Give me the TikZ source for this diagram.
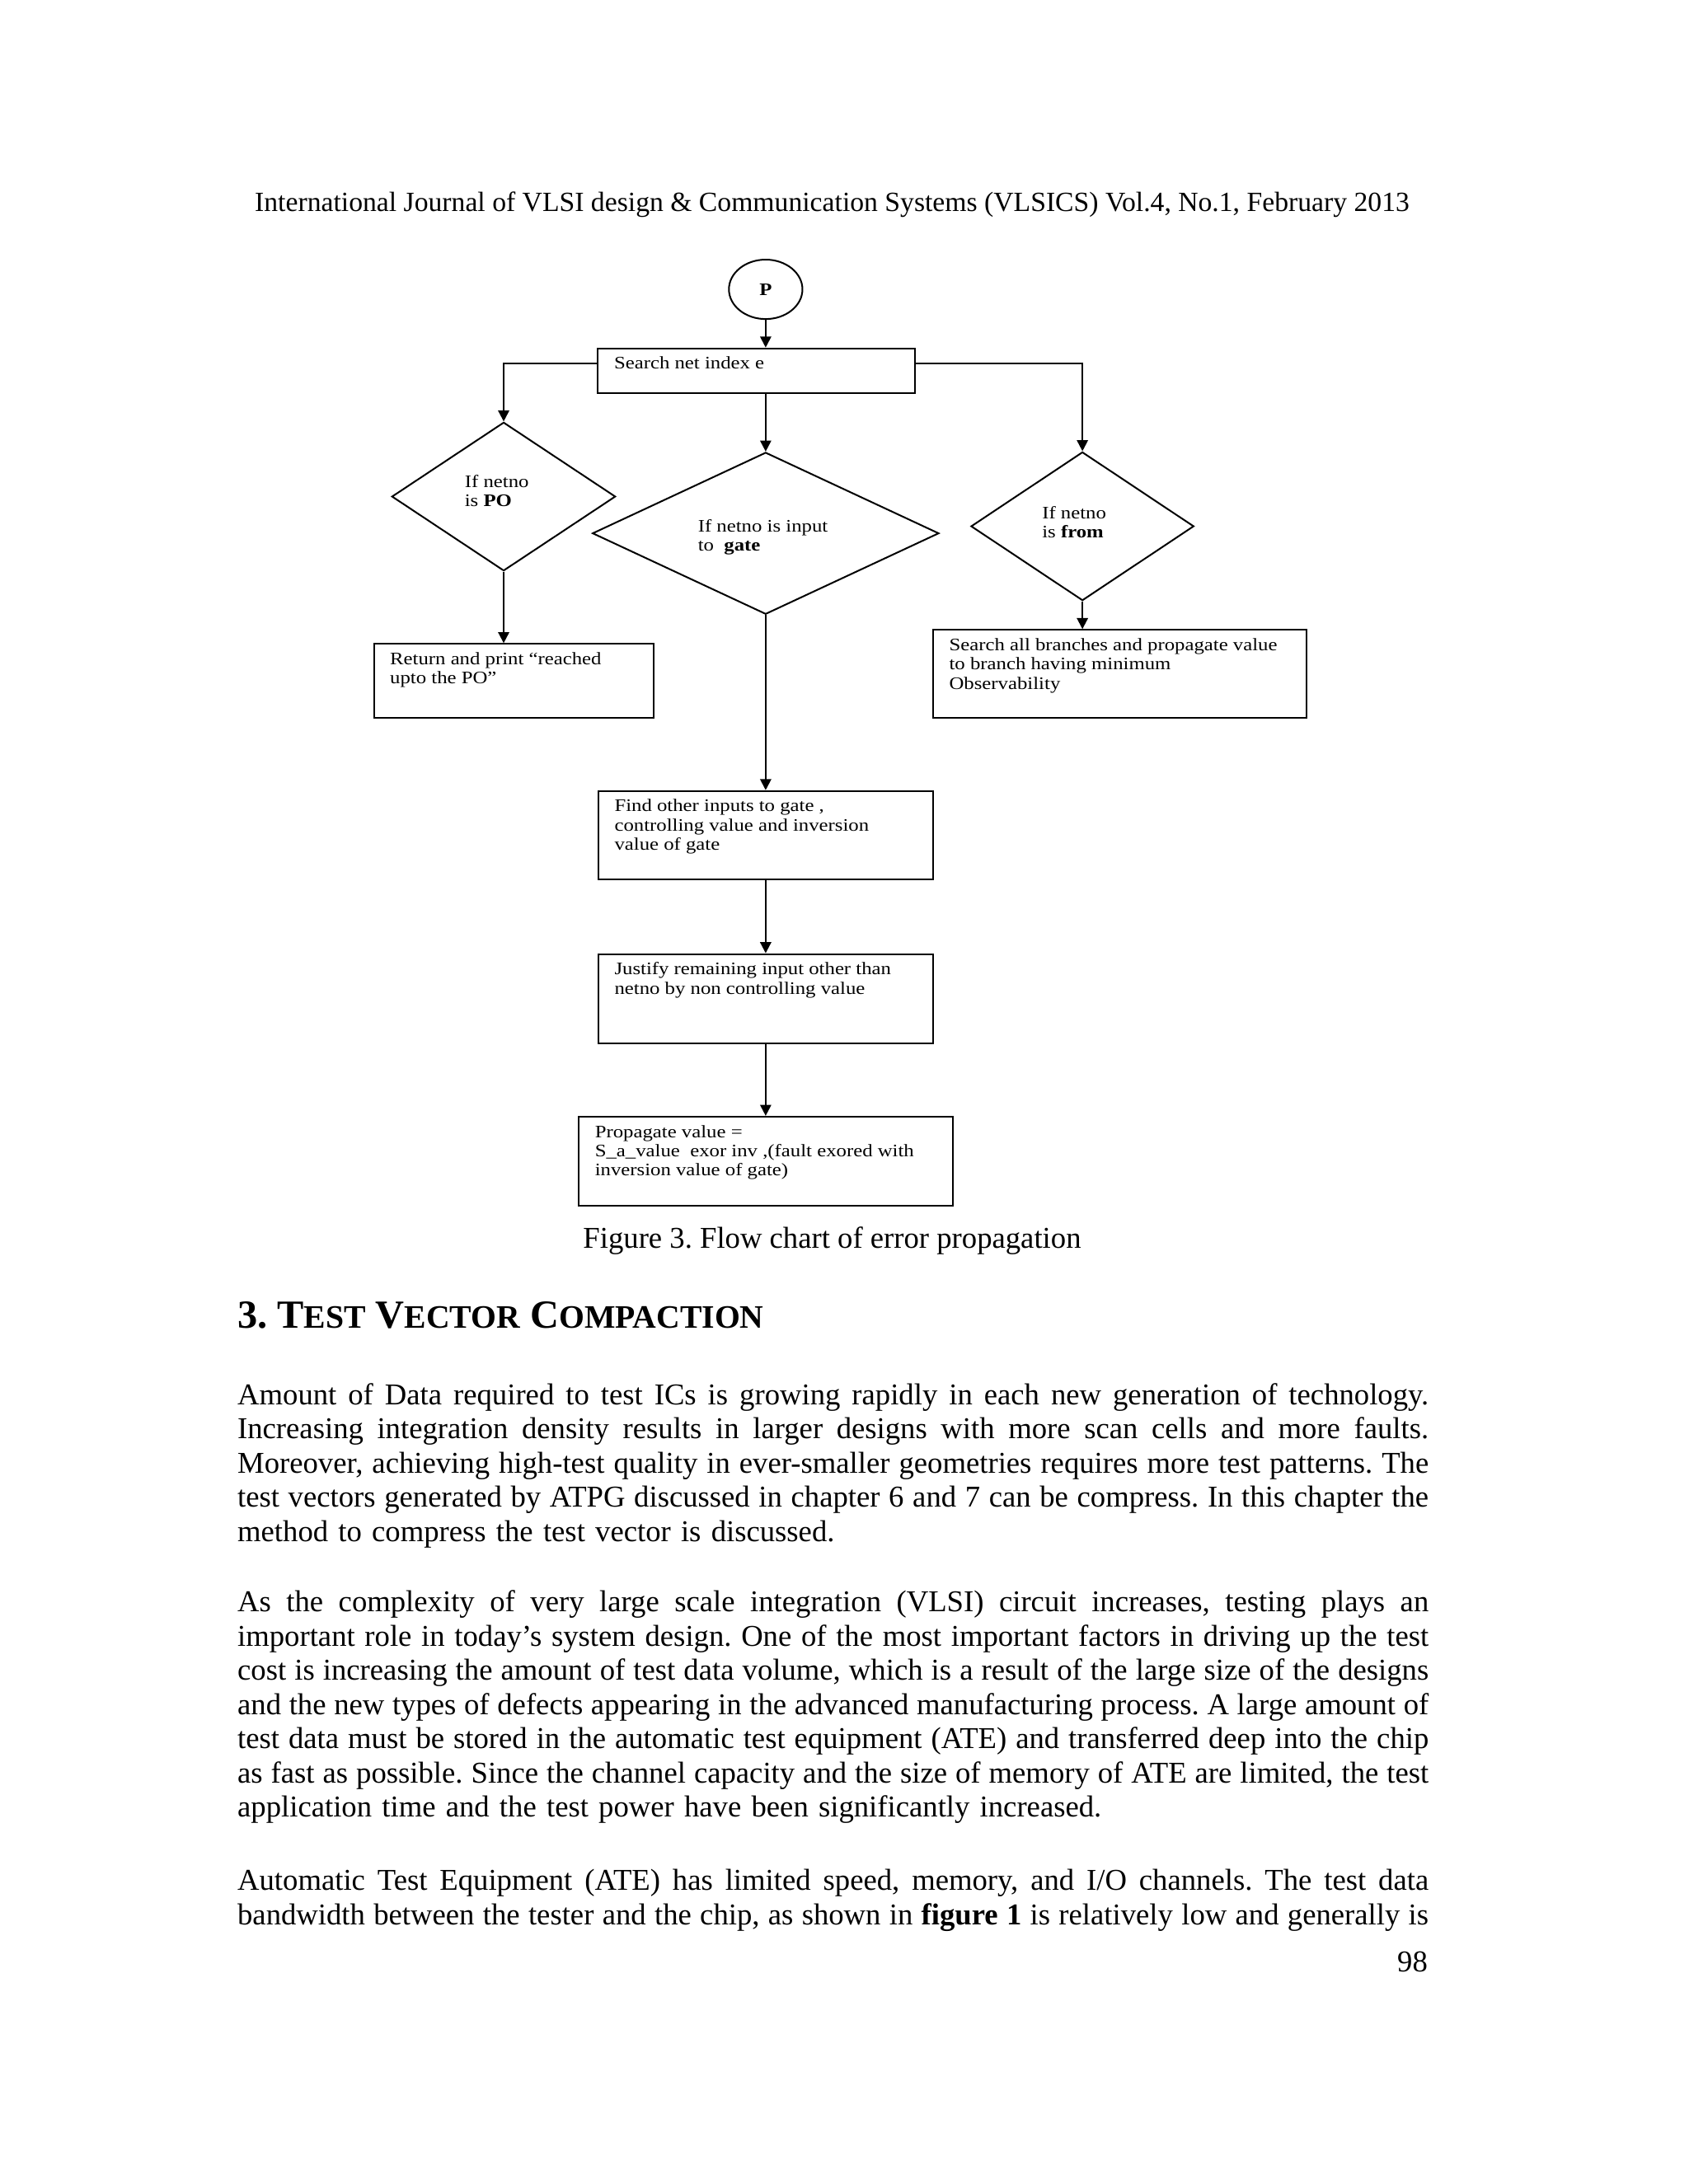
\documentclass[tikz,border=0pt]{standalone}
\usepackage{fontspec}
\setmainfont{Liberation Serif}
\newfontfamily\flowfont{Liberation Serif}[FakeStretch=1.16]
\usetikzlibrary{shapes.geometric, arrows.meta, positioning}
\newcommand{\justline}[1]{\makebox[15.23cm][s]{\spaceskip=0pt\xspaceskip=0pt #1}}
\newcommand{\headsc}[1]{{\fontsize{11.9pt}{14pt}\selectfont #1}}
\frenchspacing

\begin{document}
\begin{tikzpicture}[
    chart/.style={font=\flowfont\fontsize{6.4pt}{7pt}\selectfont},
    terminal/.style={ellipse, draw=black, line width=0.6pt, inner sep=0pt, minimum width=0.94cm, minimum height=0.76cm, chart},
    decision/.style={diamond, draw=black, line width=0.6pt, inner sep=0pt},
    difftext/.style={anchor=center, inner sep=0pt, align=left, chart},
    process/.style={rectangle, draw=black, line width=0.6pt, inner sep=0pt},
    boxtext/.style={anchor=north west, inner xsep=6pt, inner ysep=3.2pt, align=left, chart},
    flow/.style={-{Triangle[length=4pt, width=4pt]}, line width=0.6pt},
    para/.style={anchor=north west, inner sep=0pt, text width=15.23cm, align=left, font=\fontsize{11pt}{12.45pt}\selectfont}
]
    \fill[white] (0,0) rectangle (21.59,-27.93);
    \useasboundingbox (0,0) rectangle (21.59,-27.93);

    % Header
    \node[anchor=base, inner sep=0pt, font=\fontsize{10.1pt}{12pt}\selectfont] (header) at (10.64,-2.70) {International Journal of VLSI design \& Communication Systems (VLSICS) Vol.4, No.1, February 2013};

    % Flow chart
    \node[terminal] (p) at (9.79,-3.70) {\textbf{P}};
    \node[process, minimum width=4.05cm, minimum height=0.57cm,
        label={[boxtext]north west:{Search net index e}}] (search) at (9.67,-4.74) {};

    \node[decision, minimum width=2.86cm, minimum height=1.90cm,
        label={[difftext, xshift=-2.5pt, yshift=2pt]center:{If netno\\is \textbf{PO}}}] (ldia) at (6.44,-6.35) {};
    \node[decision, minimum width=4.43cm, minimum height=2.07cm,
        label={[difftext, xshift=-1pt, yshift=-1.5pt]center:{If netno is input\\to \ \textbf{gate}}}] (mdia) at (9.79,-6.82) {};
    \node[decision, minimum width=2.85cm, minimum height=1.90cm,
        label={[difftext, xshift=-3pt, yshift=1.5pt]center:{If netno\\is \textbf{from}}}] (rdia) at (13.84,-6.73) {};

    \node[process, minimum width=3.58cm, minimum height=0.95cm,
        label={[boxtext]north west:{Return and print “reached\\upto the PO”}}] (ret) at (6.57,-8.71) {};
    \node[process, minimum width=4.78cm, minimum height=1.13cm,
        label={[boxtext]north west:{Search all branches and propagate value\\to branch having minimum\\Observability}}] (branch) at (14.32,-8.62) {};

    \node[process, minimum width=4.28cm, minimum height=1.13cm,
        label={[boxtext]north west:{Find other inputs to gate ,\\controlling value and inversion\\value of gate}}] (find) at (9.79,-10.68) {};
    \node[process, minimum width=4.28cm, minimum height=1.14cm,
        label={[boxtext]north west:{Justify remaining input other than\\netno by non controlling value}}] (justify) at (9.79,-12.77) {};
    \node[process, minimum width=4.78cm, minimum height=1.14cm,
        label={[boxtext]north west:{Propagate value =\\S\_a\_value \ exor inv ,(fault exored with\\inversion value of gate)}}] (prop) at (9.79,-14.85) {};

    \draw[flow] (p) -- (p |- search.north);
    \draw[flow] ([yshift=2.7pt]search.west) -| (ldia.north);
    \draw[flow] ([yshift=2.7pt]search.east) -| (rdia.north);
    \draw[flow] (search.south -| mdia.north) -- (mdia.north);
    \draw[flow] (ldia.south) -- (ldia.south |- ret.north);
    \draw[flow] (rdia.south) -- (rdia.south |- branch.north);
    \draw[flow] (mdia.south) -- (find.north);
    \draw[flow] (find) -- (justify);
    \draw[flow] (justify) -- (prop);

    % Caption and section
    \node[anchor=base, inner sep=0pt, font=\fontsize{11pt}{13pt}\selectfont] (caption) at (10.64,-15.96) {Figure 3. Flow chart of error propagation};
    \node[anchor=base west, inner sep=0pt, font=\fontsize{14.5pt}{17pt}\selectfont\bfseries] (section) at (3.03,-16.98)
        {3. T\headsc{EST} V\headsc{ECTOR} C\headsc{OMPACTION}};

    % Body text
    \node[para] (para1) at (3.03,-17.65) {%
        \justline{\strut Amount of Data required to test ICs is growing rapidly in each new generation of technology.}\\
        \justline{Increasing integration density results in larger designs with more scan cells and more faults.}\\
        \justline{Moreover, achieving high-test quality in ever-smaller geometries requires more test patterns. The}\\
        \justline{test vectors generated by ATPG discussed in chapter 6 and 7 can be compress. In this chapter the}\\
        method to compress the test vector is discussed.};
    \node[para] (para2) at (3.03,-20.30) {%
        \justline{\strut As the complexity of very large scale integration (VLSI) circuit increases, testing plays an}\\
        \justline{important role in today’s system design. One of the most important factors in driving up the test}\\
        \justline{cost is increasing the amount of test data volume, which is a result of the large size of the designs}\\
        \justline{and the new types of defects appearing in the advanced manufacturing process. A large amount of}\\
        \justline{test data must be stored in the automatic test equipment (ATE) and transferred deep into the chip}\\
        \justline{as fast as possible. Since the channel capacity and the size of memory of ATE are limited, the test}\\
        application time and the test power have been significantly increased.};
    \node[para] (para3) at (3.03,-23.86) {%
        \justline{\strut Automatic Test Equipment (ATE) has limited speed, memory, and I/O channels. The test data}\\
        \justline{bandwidth between the tester and the chip, as shown in \textbf{figure 1} is relatively low and generally is}};

    % Page number
    \node[anchor=base east, inner sep=0pt, font=\fontsize{11pt}{13pt}\selectfont] (pagenum) at (18.26,-25.22) {98};
\end{tikzpicture}
\end{document}
